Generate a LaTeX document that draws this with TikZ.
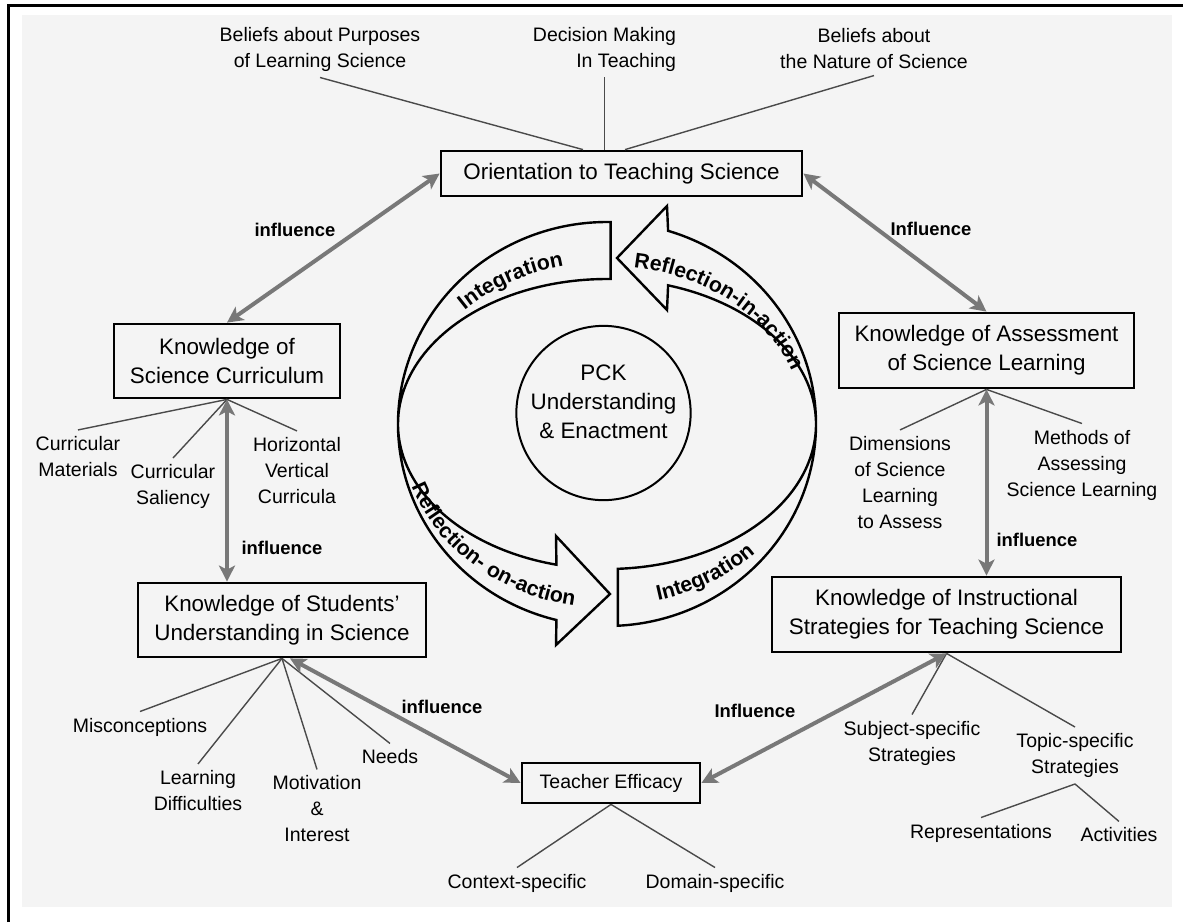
\documentclass[tikz,border=0pt]{standalone}
\usepackage{fontspec}
\setmainfont{Liberation Sans}
\usetikzlibrary{positioning,calc,arrows.meta,decorations.text}

\definecolor{bggray}{HTML}{F4F4F4}
\definecolor{armgray}{HTML}{787878}
\definecolor{linegray}{HTML}{4A4A4A}
\newcommand{\boxfont}{\fontsize{11.2}{14.5}\selectfont}
\newcommand{\leaffont}{\fontsize{9.75}{13}\selectfont}
\newcommand{\inflfont}{\fontsize{9.2}{11}\selectfont\bfseries}
\newcommand{\bandfont}{\fontsize{10.6}{13}\selectfont\bfseries}

\begin{document}
\begin{tikzpicture}[x=0.5pt,y=0.5pt,
    box/.style={draw,line width=1.4pt,align=center,font=\boxfont,inner sep=0pt},
    leaf/.style={align=center,font=\leaffont,inner sep=3pt},
    infl/.style={font=\inflfont,inner sep=1pt},
    twig/.style={draw=linegray,line width=0.7pt},
    arm/.style={draw=armgray,line width=2pt,<->,>={Stealth[length=8pt,width=8pt,inset=2pt]}},
    band/.style={draw,line width=1.2pt,fill=bggray}]
    \useasboundingbox (0,0) rectangle (1183,-922);
    \fill[bggray] (22,-15) rectangle (1172,-907);
    \draw[line width=1.5pt] (8,-922) -- (8,-5) -- (1183,-5);

    % main boxes
    \node[box,minimum width=180.5pt,minimum height=22.5pt] (orient) at (621.5,-173.5) {Orientation to Teaching Science};
    \node[box,minimum width=113pt,minimum height=37pt] (curric) at (227,-361) {Knowledge of\\Science Curriculum};
    \node[box,minimum width=147.5pt,minimum height=37.5pt] (assess) at (986.5,-350.5) {Knowledge of Assessment\\of Science Learning};
    \node[box,minimum width=144pt,minimum height=37pt] (students) at (282,-620) {Knowledge of Students'\\Understanding in Science};
    \node[box,minimum width=174.5pt,minimum height=37.5pt] (instr) at (946.5,-614.5) {Knowledge of Instructional\\Strategies for Teaching Science};
    \node[box,font=\leaffont,minimum width=89pt,minimum height=20pt] (efficacy) at (611,-783) {Teacher Efficacy};
    \node[circle,draw,line width=1pt,minimum size=83pt,inner sep=0pt,align=center,font=\boxfont,text depth=11.5pt] (pck) at (603.5,-413) {PCK\\Understanding\\\& Enactment};

    % leaves
    \node[leaf] (bp) at (320,-49) {Beliefs about Purposes\\of Learning Science};
    \node[leaf,align=right] (dm) at (604.5,-49) {Decision Making\\In Teaching};
    \node[leaf] (bn) at (874,-49) {Beliefs about\\the Nature of Science};
    \node[leaf] (cm) at (78,-456.5) {Curricular\\Materials};
    \node[leaf] (cs) at (173,-486.5) {Curricular\\Saliency};
    \node[leaf] (hv) at (297,-470.5) {Horizontal\\Vertical\\Curricula};
    \node[leaf] (ds) at (900,-482.5) {Dimensions\\of Science\\Learning\\to Assess};
    \node[leaf] (ma) at (1082,-465) {Methods of\\Assessing\\Science Learning};
    \node[leaf] (mc) at (140,-727) {Misconceptions};
    \node[leaf] (ld) at (198,-790.5) {Learning\\Difficulties};
    \node[leaf] (mi) at (317,-809) {Motivation\\\&\\Interest};
    \node[leaf] (nd) at (390,-757) {Needs};
    \node[leaf] (cx) at (517,-883) {Context-specific};
    \node[leaf] (dom) at (715,-883) {Domain-specific};
    \node[leaf] (ss) at (912,-743) {Subject-specific\\Strategies};
    \node[leaf] (ts) at (1075,-755.5) {Topic-specific\\Strategies};
    \node[leaf] (rp) at (981,-833) {Representations};
    \node[leaf] (ac) at (1119,-835) {Activities};

    \node[infl] (i1) at (295,-230) {influence};
    \node[infl] (i2) at (931,-229) {Influence};
    \node[infl] (i3) at (282,-548) {influence};
    \node[infl] (i4) at (1037,-540) {influence};
    \node[infl] (i5) at (442,-707) {influence};
    \node[infl] (i6) at (755,-711) {Influence};

    % thin lines
    \draw[twig] (bp.south) -- ($(orient.north)+(-38.5,0)$);
    \draw[twig] (dm.south) -- (dm.south |- orient.north);
    \draw[twig] (bn.south) -- ($(orient.north)+(3.5,0)$);
    \foreach \x in {cm,cs,hv}{
        \draw[twig] (curric.south)--(\x.north);
    }
    \foreach \x in {ds,ma}{
        \draw[twig] (assess.south)--(\x.north);
    }
    \foreach \x in {mc,ld,mi,nd}{
        \draw[twig] (students.south)--(\x.north);
    }
    \foreach \x in {cx,dom}{
        \draw[twig] (efficacy.south)--(\x.north);
    }
    \foreach \x in {ss,ts}{
        \draw[twig] (instr.south)--(\x.north);
    }
    \foreach \x in {rp,ac}{
        \draw[twig] (ts.south)--(\x.north);
    }

    % influence arrows
    \draw[arm] (orient.west) -- (curric.north);
    \draw[arm] (orient.east) -- (assess.north);
    \draw[arm] (curric.south) -- (curric.south |- students.north);
    \draw[arm] (assess.south) -- (assess.south |- instr.north);
    \draw[arm] ([xshift=4pt]students.south) -- (efficacy.west);
    \draw[arm] (instr.south) -- (efficacy.east);

    % cycle of block arrows
    \begin{scope}[shift={(607,-424)}]
        \draw[band] (180:209 and 202) arc[start angle=180,end angle=89,x radius=209,y radius=202]
            -- (89:209 and 145) arc[start angle=89,end angle=180,x radius=209,y radius=145] -- cycle;
        \draw[band] (0:209 and 202) arc[start angle=0,end angle=-87,x radius=209,y radius=202]
            -- (-87:209 and 145) arc[start angle=-87,end angle=0,x radius=209,y radius=145] -- cycle;
        \draw[band] (0:209 and 202) arc[start angle=0,end angle=73,x radius=209,y radius=202]
            -- (60,218) -- (10,166) -- (60,114)
            -- (73:209 and 145) arc[start angle=73,end angle=0,x radius=209,y radius=145] -- cycle;
        \draw[band] (180:209 and 202) arc[start angle=180,end angle=256,x radius=209,y radius=202]
            -- (-51,-221) -- (3,-170) -- (-51,-112)
            -- (256:209 and 145) arc[start angle=256,end angle=180,x radius=209,y radius=145] -- cycle;

        \path[decorate,decoration={text along path,text align=center,text={|\bandfont|Integration}}]
            (166:200 and 162) arc[start angle=166,end angle=76,x radius=200,y radius=162];
        \path[decorate,decoration={text along path,text align=center,text={|\bandfont|Reflection-in-action}}]
            (90:196 and 158) arc[start angle=90,end angle=10,x radius=196,y radius=158];
        \path[decorate,decoration={text along path,text align=center,text={|\bandfont|Reflection- on-action}}]
            (192:208 and 184) arc[start angle=192,end angle=268,x radius=208,y radius=184];
        \path[decorate,decoration={text along path,text align=center,text={|\bandfont|Integration}}]
            (272:210 and 182) arc[start angle=272,end angle=328,x radius=210,y radius=182];
    \end{scope}
\end{tikzpicture}
\end{document}
